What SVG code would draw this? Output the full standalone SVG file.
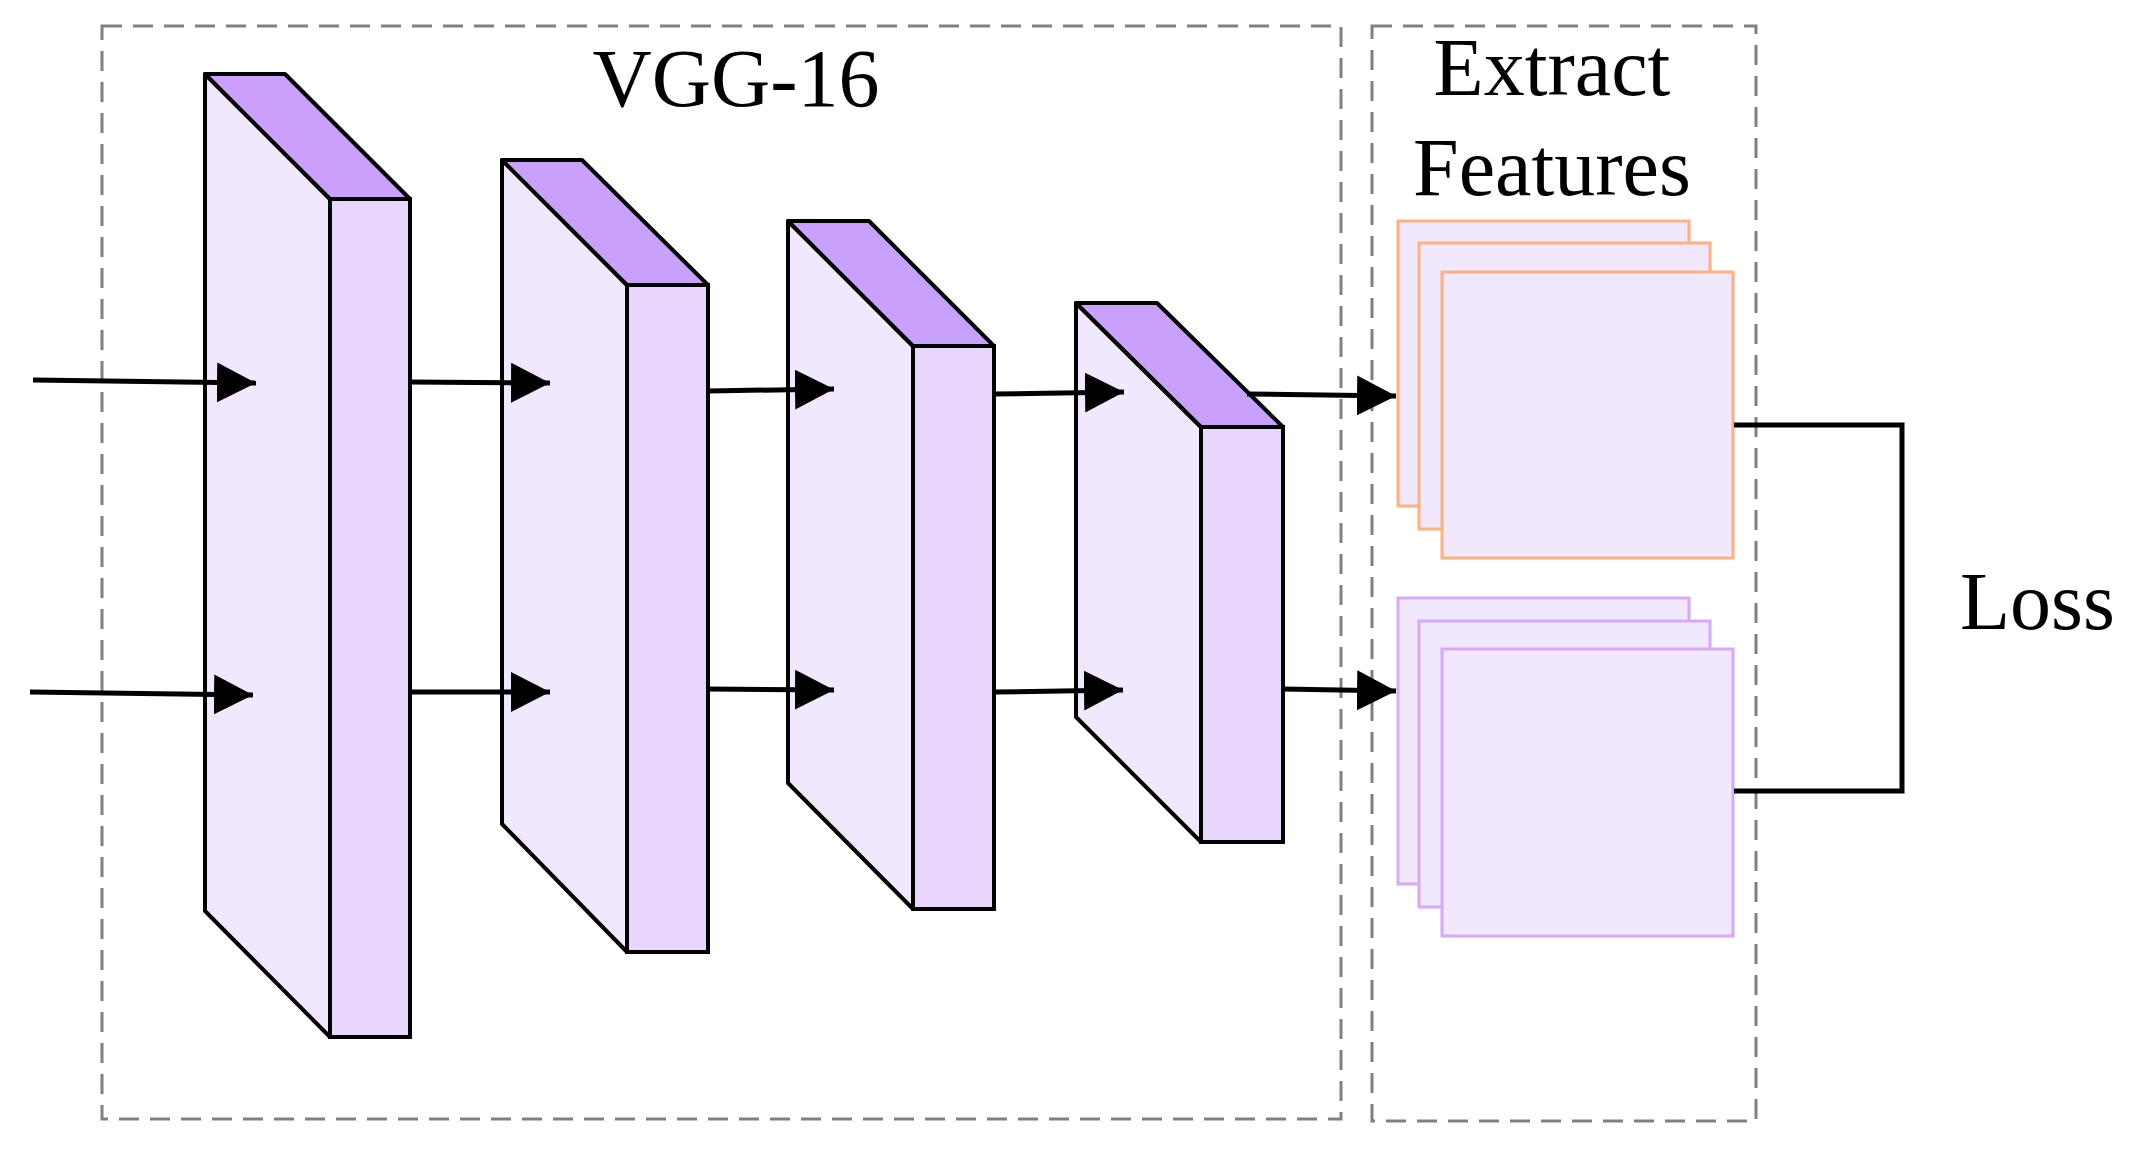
<svg xmlns="http://www.w3.org/2000/svg" width="2135" height="1149" viewBox="0 0 2135 1149">
<style>
.dash{fill:none;stroke:#808080;stroke-width:3;stroke-dasharray:20 11}
.f{fill:#F1E8FE;stroke:#000;stroke-width:4;stroke-linejoin:round}
.s{fill:#E8D6FE;stroke:#000;stroke-width:4}
.t{fill:#C9A0FC;stroke:#000;stroke-width:4;stroke-linejoin:round}
.a{fill:none;stroke:#000;stroke-width:5;marker-end:url(#ah)}
.o{fill:#F1E8FE;stroke:#FFB07F;stroke-width:3}
.p{fill:#F1E8FE;stroke:#D8A8FF;stroke-width:3}
text{font-family:"Liberation Serif",serif;font-size:82px;fill:#000}
</style>
<defs>
<marker id="ah" markerUnits="userSpaceOnUse" markerWidth="42" markerHeight="42" refX="39" refY="20" orient="auto">
<path d="M0,0 L39,20 L0,40 Z" fill="#000"/>
</marker>
</defs>
<rect class="dash" x="102" y="26" width="1239" height="1093"/>
<rect class="dash" x="1372" y="26" width="384" height="1095"/>
<text x="736" y="106" text-anchor="middle">VGG-16</text>
<text x="1552" y="95" text-anchor="middle">Extract</text>
<text x="1552" y="195" text-anchor="middle">Features</text>
<text x="1960" y="629">Loss</text>
<g id="block1">
<polygon class="f" points="205,74 330,199 330,1037 205,911"/>
<polygon class="t" points="205,74 285,74 410,199 330,199"/>
<rect class="s" x="330" y="199" width="80" height="838"/>
</g>
<g id="block2">
<polygon class="f" points="502,160 627,285 627,952 502,824"/>
<polygon class="t" points="502,160 582,160 708,285 627,285"/>
<rect class="s" x="627" y="285" width="81" height="667"/>
</g>
<g id="block3">
<polygon class="f" points="788,221 913,346 913,909 788,783"/>
<polygon class="t" points="788,221 869,221 994,346 913,346"/>
<rect class="s" x="913" y="346" width="81" height="563"/>
</g>
<g id="block4">
<polygon class="f" points="1076,303 1201,427 1201,842 1076,717"/>
<polygon class="t" points="1076,303 1157,303 1283,427 1201,427"/>
<rect class="s" x="1201" y="427" width="82" height="415"/>
</g>
<g id="feat1">
<rect class="o" x="1398" y="221" width="291" height="285"/>
<rect class="o" x="1419" y="243" width="291" height="286"/>
<rect class="o" x="1442" y="272" width="291" height="286"/>
</g>
<g id="feat2">
<rect class="p" x="1398" y="598" width="291" height="286"/>
<rect class="p" x="1419" y="621" width="291" height="286"/>
<rect class="p" x="1442" y="649" width="291" height="287"/>
</g>
<g id="connectors">
<path class="a" d="M33,380 L256,383"/>
<path class="a" d="M30,692 L253,695"/>
<path class="a" d="M410,382 L550,383"/>
<path class="a" d="M410,692 L550,692"/>
<path class="a" d="M708,391 L834,389"/>
<path class="a" d="M708,689 L834,690"/>
<path class="a" d="M994,394 L1124,392"/>
<path class="a" d="M994,692 L1123,690"/>
<path class="a" d="M1247,394 L1396,396"/>
<path class="a" d="M1283,689 L1396,691"/>
<path d="M1734,425 L1902,425 L1902,791 L1734,791" fill="none" stroke="#000" stroke-width="5"/>
</g>
</svg>
